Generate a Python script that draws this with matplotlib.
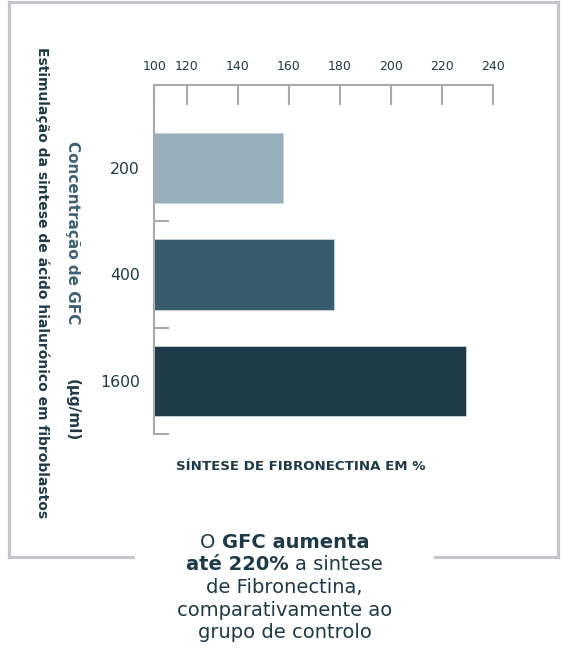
import matplotlib
matplotlib.use('Agg')
import matplotlib.pyplot as plt
from matplotlib.lines import Line2D

# ---------------------------------------------------------------------------
# Data
# ---------------------------------------------------------------------------
concentrations = ['200', '400', '1600']          # GFC (µg/ml)
fibronectin    = [157.8, 177.8, 229.2]           # síntese de fibronectina (%)
x_ticks        = [120, 140, 160, 180, 200, 220, 240]
x_origin_label = '100'

caption = [
    [('O', 'normal'), ('GFC aumenta', 'bold')],
    [('até 220%', 'bold'), ('a sintese', 'normal')],
    [('de Fibronectina,', 'normal')],
    [('comparativamente ao', 'normal')],
    [('grupo de controlo', 'normal')],
]

# ---------------------------------------------------------------------------
# Style
# ---------------------------------------------------------------------------
W, H, DPI = 568, 650, 100
DARK   = '#1e3a48'
MID    = '#3d6176'
GRAY   = '#a9a9ae'
FRAME  = '#c6c7cc'
BAR_COLOURS = ['#97afbd', '#385c6e', '#1d3b49']
X_MIN, X_MAX = 107.3, 240

plt.rcParams.update({
    'font.family': 'DejaVu Sans',
})

fig = plt.figure(figsize=(W / DPI, H / DPI), dpi=DPI)
fig.patch.set_facecolor('white')


def px(x, y):
    """pixel coords (top-left origin) -> figure fraction"""
    return x / W, 1 - y / H


# frame around the chart, open at the bottom for the caption
for (x0, y0), (x1, y1) in [((9, 2), (558, 2)), ((9, 2), (9, 557)),
                           ((558, 2), (558, 557)), ((9, 557), (133, 557)),
                           ((435, 557), (558, 557))]:
    a, b = px(x0, y0)
    c, d = px(x1, y1)
    fig.add_artist(Line2D([a, c], [b, d], color=FRAME, linewidth=2.3,
                          solid_capstyle='projecting'))

# ---------------------------------------------------------------------------
# Bars
# ---------------------------------------------------------------------------
left, top = px(154.3, 85)
right, bottom = px(493.3, 434)
ax = fig.add_axes([left, bottom, right - left, top - bottom])

ypos = list(range(len(concentrations)))
ax.barh(ypos, fibronectin, height=0.66, color=BAR_COLOURS,
        edgecolor='#c4d2db', linewidth=0.6)

ax.set_xlim(X_MIN, X_MAX)
ax.set_ylim(2.5, -0.78)

ax.xaxis.tick_top()
ax.set_xticks([X_MIN] + x_ticks)
ax.set_xticklabels([x_origin_label] + [str(t) for t in x_ticks])
ax.tick_params(axis='x', direction='in', length=14.4, width=1.5, color=GRAY,
               pad=9, labelsize=9, labelcolor=DARK)

ax.set_yticks(ypos)
ax.set_yticklabels(concentrations)
ax.tick_params(axis='y', which='major', length=0, pad=10.5,
               labelsize=11.3, labelcolor=DARK)
ax.set_yticks([0.5, 1.5, 2.5], minor=True)
ax.tick_params(axis='y', which='minor', direction='in', length=10.8,
               width=1.5, color=GRAY)

for side in ['right', 'bottom']:
    ax.spines[side].set_visible(False)
for side in ['top', 'left']:
    ax.spines[side].set_color(GRAY)
    ax.spines[side].set_linewidth(1.5)

# ---------------------------------------------------------------------------
# Labels
# ---------------------------------------------------------------------------
fig.text(*px(42.7, 283), 'Estimulação da sintese de ácido hialurónico em fibroblastos',
         rotation=-90, ha='center', va='center', fontsize=10,
         fontweight='bold', color=DARK)
fig.text(*px(72.7, 233), 'Concentração de GFC', rotation=-90,
         ha='center', va='center', fontsize=11, fontweight='bold', color=MID)
fig.text(*px(72.7, 410), '(µg/ml)', rotation=-90,
         ha='center', va='center', fontsize=11, fontweight='bold', color=DARK)

fig.text(*px(300.7, 467), 'SÍNTESE DE FIBRONECTINA EM %', ha='center',
         va='center', fontsize=9.6, fontweight='bold', color=DARK)

# caption with mixed weights, each line centred on the figure
renderer = fig.canvas.get_renderer()
CAP_SIZE = 14


def _width(s, weight):
    t = fig.text(0, 0, s, fontsize=CAP_SIZE, fontweight=weight)
    w = t.get_window_extent(renderer).width
    t.remove()
    return w


space_w = _width('x x', 'normal') - _width('xx', 'normal')
baselines = [548, 570.5, 593, 615.5, 638]

for parts, yb in zip(caption, baselines):
    widths = [_width(s, w) for s, w in parts]
    total = sum(widths) + space_w * (len(parts) - 1)
    x = (W - total) / 2 + 0.5
    for (s, w), wd in zip(parts, widths):
        fig.text(*px(x, yb), s, fontsize=CAP_SIZE, fontweight=w, color=DARK,
                 ha='left', va='baseline')
        x += wd + space_w

plt.savefig('out.png', dpi=DPI)
plt.close()
